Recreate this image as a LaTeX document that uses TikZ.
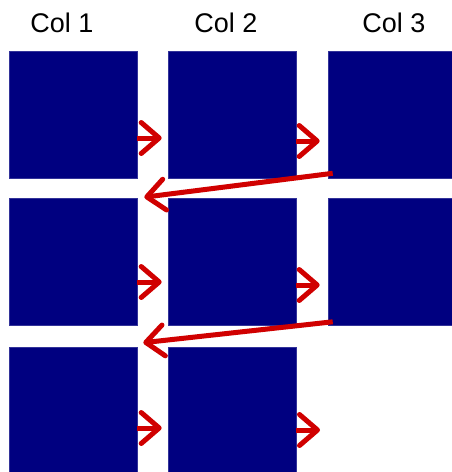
\documentclass[tikz,border=0pt]{standalone}
\usepackage{fontspec}
\setmainfont{Liberation Sans}
\usetikzlibrary{arrows.meta}
\definecolor{boxblue}{HTML}{000080}
\definecolor{arrred}{HTML}{D00000}
\begin{document}
\begin{tikzpicture}[x=1pt,y=-1pt,
  cell/.style={rectangle,fill=boxblue,draw=boxblue!80!white,line width=0.6pt,inner sep=0pt,minimum width=128pt,minimum height=127pt},
  head/.style={font=\fontsize{27pt}{30pt}\selectfont,anchor=base,inner sep=0pt},
  flow/.style={draw=arrred,line width=5pt,-{Straight Barb[length=18pt,width=31pt,line cap=round,line join=round]}}]
\useasboundingbox (0,0) rectangle (452,472);
\begin{scope}
\clip (0,0) rectangle (452,472);
\node[head] (t1) at (62,32) {Col 1};
\node[head] (t2) at (226,32) {Col 2};
\node[head] (t3) at (394,32) {Col 3};
\node[cell] (b11) at (73,114.5) {};
\node[cell] (b12) at (232,114.5) {};
\node[cell] (b13) at (392,114.5) {};
\node[cell] (b21) at (73,262) {};
\node[cell] (b22) at (232,262) {};
\node[cell] (b23) at (392,262) {};
\node[cell] (b31) at (73,410.5) {};
\node[cell] (b32) at (232,410.5) {};
\coordinate (end) at (320,430);
\draw[flow] ([yshift=-23.5pt]b11.east) -- ([yshift=-23.5pt,xshift=-6pt]b12.west);
\draw[flow] ([yshift=-26.5pt]b12.east) -- ([yshift=-26.5pt,xshift=-8pt]b13.west);
\draw[flow] ([xshift=5pt,yshift=5pt]b13.south west) -- ([xshift=7pt,yshift=1pt]b21.north east);
\draw[flow] ([yshift=-20pt]b21.east) -- ([yshift=-20pt,xshift=-6pt]b22.west);
\draw[flow] ([yshift=-23pt]b22.east) -- ([yshift=-23pt,xshift=-8pt]b23.west);
\draw[flow] ([xshift=5pt,yshift=4pt]b23.south west) -- ([xshift=6pt,yshift=4pt]b31.north east);
\draw[flow] ([yshift=-17.5pt]b31.east) -- ([yshift=-17.5pt,xshift=-6pt]b32.west);
\draw[flow] ([yshift=-19.5pt]b32.east) -- (end);
\end{scope}
\end{tikzpicture}
\end{document}
